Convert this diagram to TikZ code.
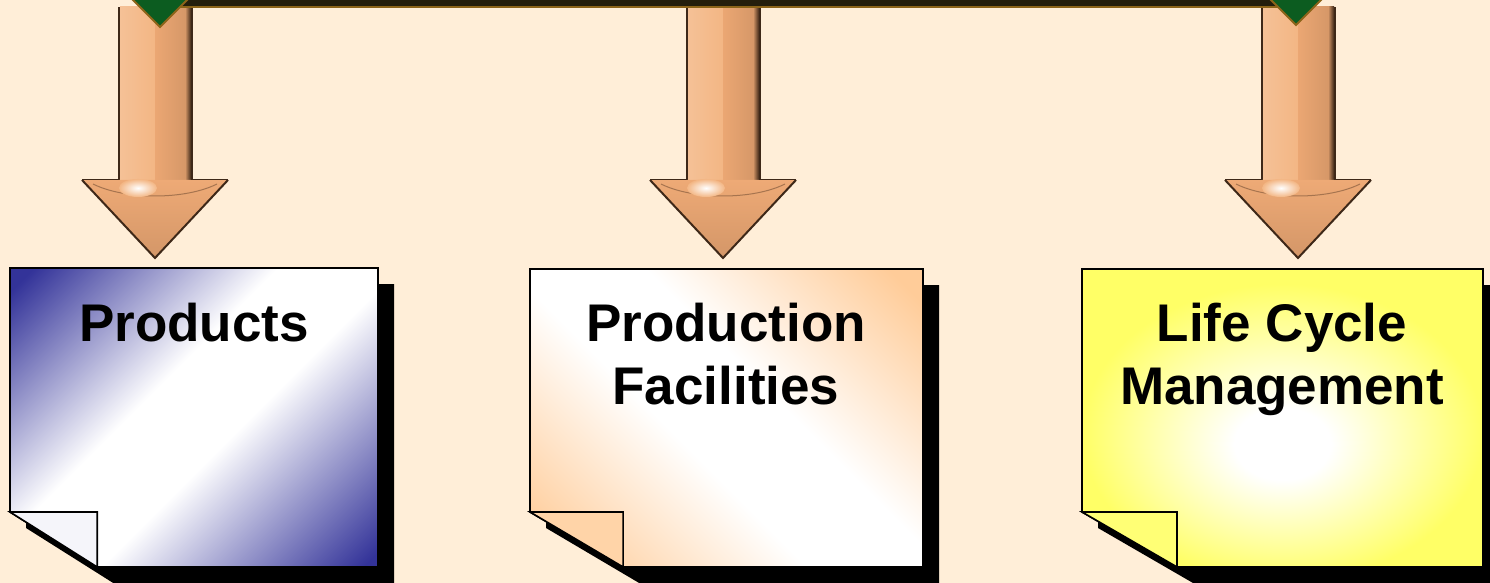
\documentclass[tikz,border=0pt]{standalone}
\usepackage{fontspec}
\setmainfont{Liberation Sans}
\usetikzlibrary{calc}

\definecolor{paper}{RGB}{255,238,216}
\definecolor{notenavy}{RGB}{51,51,153}
\definecolor{notepeach}{RGB}{255,204,153}
\definecolor{noteyellow}{RGB}{255,255,102}
\definecolor{shaftlight}{RGB}{243,182,132}
\definecolor{shaftmid}{RGB}{235,167,115}
\definecolor{arrowedge}{RGB}{62,40,24}
\definecolor{headfill}{RGB}{238,170,118}
\definecolor{bardark}{RGB}{36,30,12}
\definecolor{bargold}{RGB}{140,100,25}
\definecolor{knobgreen}{RGB}{12,92,32}

\pgfdeclarehorizontalshading{blueband}{100bp}{color(0bp)=(notenavy); color(17bp)=(notenavy); color(43bp)=(white); color(56bp)=(white); color(84bp)=(notenavy); color(100bp)=(notenavy)}
\pgfdeclarehorizontalshading{peachband}{100bp}{color(0bp)=(notepeach); color(18bp)=(notepeach); color(43bp)=(white); color(57bp)=(white); color(82bp)=(notepeach); color(100bp)=(notepeach)}
\pgfdeclareradialshading{yellowglow}{\pgfpoint{0bp}{-5bp}}{color(0bp)=(white); color(6bp)=(white); color(25bp)=(noteyellow); color(50bp)=(noteyellow)}

% block arrow from the bar down to a note: #1 top of shaft, #2 tip
\newcommand{\bigarrow}[2]{%
  \fill[arrowedge] ($(#1)+(-37,0)$) rectangle ($(#2)+(38,-78)$);
  \shade[left color=shaftlight!85!white, right color=shaftlight] ($(#1)+(-35,0)$) rectangle ($(#2)+(0,-78)$);
  \shade[left color=shaftmid, right color=shaftmid!88!arrowedge] ($(#1)+(0,0)$) rectangle ($(#2)+(30,-78)$);
  \shade[left color=shaftmid!88!arrowedge, right color=arrowedge] ($(#1)+(30,0)$) rectangle ($(#2)+(36,-78)$);
  \shade[top color=headfill, bottom color=headfill!85!arrowedge] ($(#2)+(-73,-78)$) -- ($(#2)+(73,-78)$) -- (#2) -- cycle;
  \draw[arrowedge, line width=1pt] ($(#2)+(-73,-78)$) -- (#2) -- ($(#2)+(73,-78)$);
  \draw[arrowedge, line width=0.5pt] ($(#2)+(-73,-78)$) -- ($(#2)+(-36,-78)$) ($(#2)+(36,-78)$) -- ($(#2)+(73,-78)$);
  \draw[shaftmid!60!arrowedge, line width=0.5pt] ($(#2)+(-62,-74)$) .. controls ($(#2)+(-30,-58)$) and ($(#2)+(30,-58)$) .. ($(#2)+(62,-74)$);
  \shade[inner color=white, outer color=shaftlight] ($(#2)+(-17,-70)$) ellipse [x radius=19, y radius=9];
}

% note with folded corner: #1 top left, #2 bottom right, #3 body style, #4 fold style
\newcommand{\stickynote}[4]{%
  \coordinate (#1crease) at ($(#1|-#2)+(0,-55)$);
  \coordinate (#1fold) at ($(#1|-#2)!0.237!(#2)$);
  \fill[notedrop] ($(#1)+(16,16)$) -- ($(#1-|#2)+(16,16)$) -- ($(#2)+(16,16)$) -- ($(#1fold)+(16,16)$) -- ($(#1crease)+(16,16)$) -- cycle;
  \shade[#3] (#1) -- (#1-|#2) -- (#2) -- (#1fold) -- (#1crease) -- cycle;
  \draw[noteline] (#1) -- (#1-|#2) -- (#2) -- (#1fold) -- (#1crease) -- cycle;
  \filldraw[#4, noteline] (#1crease) -- (#1fold|-#1crease) -- (#1fold) -- cycle;
}

\begin{document}
\begin{tikzpicture}[x=0.5pt, y=-0.5pt,
    notetext/.style={font=\fontsize{26.5}{31.5}\selectfont\bfseries, align=center, inner sep=0pt, anchor=north},
    notedrop/.style={fill=black},
    noteline/.style={draw=black, line width=0.8pt},
    bluenote/.style={shading=blueband, shading angle=-45},
    peachnote/.style={shading=peachband, shading angle=45},
    yellownote/.style={shading=yellowglow},
    bluefold/.style={fill=notenavy!5!white},
    peachfold/.style={fill=notepeach!85!white},
    yellowfold/.style={fill=noteyellow!90!white},
    knob/.style={fill=knobgreen, draw=bargold, line width=1pt}]
	\useasboundingbox (0,0) rectangle (1490,583);
	\fill[paper] (0,0) rectangle (1490,583);

	\path (155,7) coordinate (top1)
	(155,258) coordinate (tip1)
	(723,7) coordinate (top2)
	(723,258) coordinate (tip2)
	(1298,7) coordinate (top3)
	(1298,258) coordinate (tip3);

	\bigarrow{top1}{tip1}
	\bigarrow{top2}{tip2}
	\bigarrow{top3}{tip3}

	% bar with the two knobs
	\fill[bardark] (160,-2) rectangle (1296,7);
	\draw[bargold, line width=1pt] (160,7) -- (1296,7);
	\draw[knob] (160,27) -- (200,-13) -- (160,-53) -- (120,-13) -- cycle;
	\draw[knob] (1296,25) -- (1336,-15) -- (1296,-55) -- (1256,-15) -- cycle;

	\path (10,268) coordinate (n1) (378,567) coordinate (m1)
	(530,269) coordinate (n2) (923,567) coordinate (m2)
	(1082,269) coordinate (n3) (1483,567) coordinate (m3);

	\stickynote{n1}{m1}{bluenote}{bluefold}
	\stickynote{n2}{m2}{peachnote}{peachfold}
	\stickynote{n3}{m3}{yellownote}{yellowfold}

	\node[notetext] (products) at (194,303) {Products};
	\node[notetext] (facilities) at (726,303) {Production\\Facilities};
	\node[notetext] (lifecycle) at (1282,303) {Life Cycle\\Management};
\end{tikzpicture}
\end{document}
